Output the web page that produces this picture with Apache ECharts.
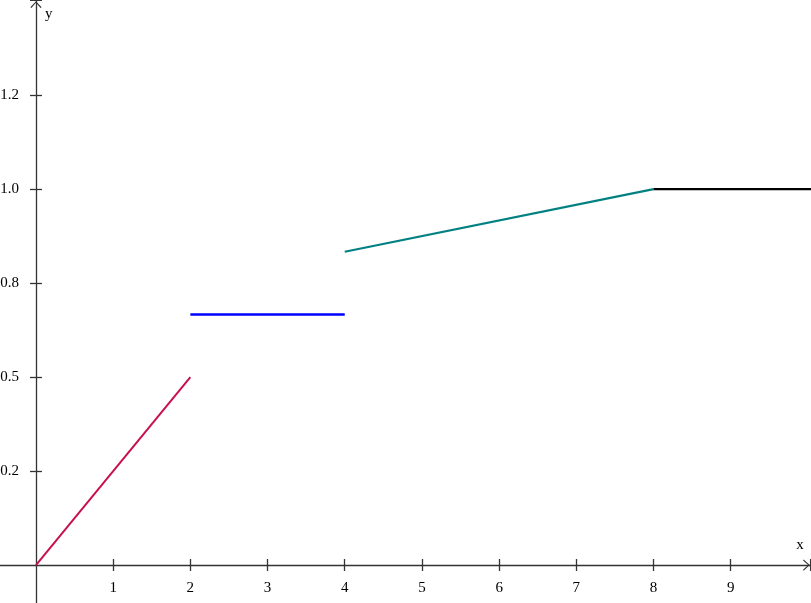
<!DOCTYPE html>
<html>
<head>
<meta charset="utf-8">
<script src="https://cdn.jsdelivr.net/npm/echarts@6/dist/echarts.min.js"></script>
<style>
html,body{margin:0;padding:0;background:#fff;}
#chart{width:811px;height:603px;}
</style>
</head>
<body>
<div id="chart"></div>
<script>
// piecewise segments [x, y]
const redSeg = [[0, 0], [2, 0.5]];
const blueSeg = [[2, 2/3], [4, 2/3]];
const tealSeg = [[4, 5/6], [8, 1]];
const blackSeg = [[8, 1], [10.04, 1]];

const xTickValues = [1, 2, 3, 4, 5, 6, 7, 8, 9];
const xTickLabels = ['1', '2', '3', '4', '5', '6', '7', '8', '9'];
const yTickValues = [0.25, 0.5, 0.75, 1.0, 1.25];
const yTickLabels = ['0.2', '0.5', '0.8', '1.0', '1.2'];

const X_MIN = -0.466, X_MAX = 10.04;
const Y_MIN = -0.101, Y_MAX = 1.503;

const FONT = 'Liberation Serif';
const FS = 15;
const AX = '#333';
const arrowPath = 'path://M0 0 L12 0 L12 1 L0 1 Z M6 1.2 L11.6 7.3 L10.6 7.9 L6 2.8 L1.4 7.9 L0.4 7.3 Z';

const chart = echarts.init(document.getElementById('chart'), null, {renderer: 'canvas'});

function xAx(kind) {
  const main = kind === 'main';
  const lab = kind === 'label';
  return {
    type: 'value', min: X_MIN, max: X_MAX,
    position: 'bottom',
    offset: lab ? -38 : 0,
    axisLine: main ? {
      show: true, onZero: true,
      lineStyle: {color: AX, width: 1.3},
      symbol: ['none', arrowPath], symbolSize: [12, 8], symbolOffset: [0, -4]
    } : {show: false, onZero: !lab},
    splitLine: {show: false},
    axisTick: {show: !lab, inside: kind === 'inner', length: 6, customValues: xTickValues, lineStyle: {color: AX, width: 1.3}},
    axisLabel: lab ? {
      show: true, customValues: xTickValues, margin: 16,
      fontFamily: FONT, fontSize: FS, color: '#000',
      formatter: v => xTickLabels[xTickValues.indexOf(v)] || ''
    } : {show: false},
    name: main ? 'x' : '', nameLocation: 'end', nameGap: -11,
    nameTextStyle: {fontFamily: FONT, fontSize: FS, color: '#000', align: 'center', verticalAlign: 'bottom', padding: [0, 0, 12, 0]}
  };
}
function yAx(kind) {
  const main = kind === 'main';
  const lab = kind === 'label';
  return {
    type: 'value', min: Y_MIN, max: Y_MAX,
    position: 'left',
    offset: lab ? -36 : 0,
    axisLine: main ? {
      show: true, onZero: true,
      lineStyle: {color: AX, width: 1.3},
      symbol: ['none', arrowPath], symbolSize: [12, 8], symbolOffset: [0, -4]
    } : {show: false, onZero: !lab},
    splitLine: {show: false},
    axisTick: {show: !lab, inside: kind === 'inner', length: 6, customValues: yTickValues, lineStyle: {color: AX, width: 1.3}},
    axisLabel: lab ? {
      show: true, customValues: yTickValues, margin: 17,
      fontFamily: FONT, fontSize: FS, color: '#000',
      formatter: v => yTickLabels[yTickValues.indexOf(v)] || ''
    } : {show: false},
    name: main ? 'y' : '', nameLocation: 'end', nameGap: -7,
    nameTextStyle: {fontFamily: FONT, fontSize: FS, color: '#000', align: 'left', verticalAlign: 'top', padding: [0, 0, 0, 9]}
  };
}

function seg(data, color, width) {
  return {
    type: 'line', data: data, xAxisIndex: 0, yAxisIndex: 0,
    showSymbol: false, symbol: 'none', silent: true, animation: false,
    lineStyle: {color: color, width: width}, z: 5
  };
}

chart.setOption({
  animation: false,
  backgroundColor: '#fff',
  grid: {left: 0, right: 0, top: 0, bottom: 0, containLabel: false, outerBoundsMode: 'none'},
  xAxis: [xAx('main'), xAx('inner'), xAx('label')],
  yAxis: [yAx('main'), yAx('inner'), yAx('label')],
  series: [
    seg(redSeg, '#c8104a', 2),
    seg(blueSeg, '#0000ff', 2.5),
    seg(tealSeg, '#008080', 2.2),
    seg(blackSeg, '#000000', 2.2),
    {type: 'line', data: [], xAxisIndex: 1, yAxisIndex: 1},
    {type: 'line', data: [], xAxisIndex: 2, yAxisIndex: 2}
  ]
});
</script>
</body>
</html>
